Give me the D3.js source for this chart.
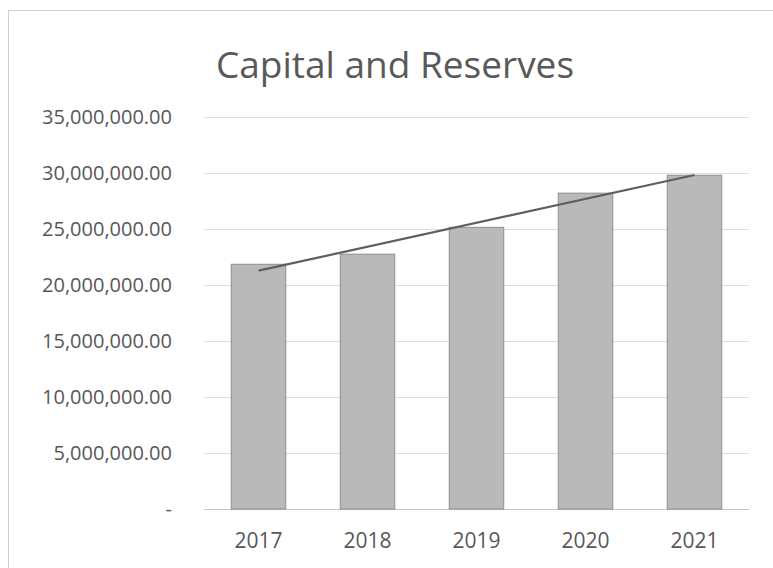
<!DOCTYPE html>
<html>
<head>
<meta charset="utf-8">
<script src="https://cdn.jsdelivr.net/npm/d3@7"></script>
<style>
    body { margin: 0; background: #fff; }
    svg { display: block; }
    .tick text { fill: #585858; }
</style>
</head>
<body>
<div id="chart"></div>
<script>
// data
var years = ["2017", "2018", "2019", "2020", "2021"];
var capital = [21850000, 22750000, 25150000, 28200000, 29800000];
var yTicks = [0, 5000000, 10000000, 15000000, 20000000, 25000000, 30000000, 35000000];

var svgWidth = 773;
var svgHeight = 568;

var margin = { top: 117, bottom: 59, left: 204, right: 24 };
var width = svgWidth - margin.left - margin.right;
var height = svgHeight - margin.top - margin.bottom;

var svg = d3.select("#chart")
    .append("svg")
    .attr("width", svgWidth)
    .attr("height", svgHeight);

// chart frame
svg.append("path")
    .attr("d", "M8.5,568 L8.5,10.5 L773,10.5")
    .attr("fill", "none")
    .attr("stroke", "#cfcfcf")
    .attr("stroke-width", 1);

// title
svg.append("text")
    .attr("x", 395)
    .attr("y", 78)
    .attr("text-anchor", "middle")
    .attr("font-family", "'Open Sans', 'Noto Sans', sans-serif")
    .attr("font-size", "37px")
    .attr("fill", "#595959")
    .text("Capital and Reserves");

var chartGroup = svg.append("g")
    .attr("transform", `translate(${margin.left}, ${margin.top})`);

var xScale = d3.scaleBand()
    .domain(years)
    .range([0, width])
    .paddingInner(0.5)
    .paddingOuter(0.25);

var yScale = d3.scaleLinear()
    .domain([0, 35000000])
    .range([height, 0]);

// gridlines
chartGroup.append("g")
    .selectAll("line")
    .data(yTicks)
    .enter()
    .append("line")
    .attr("x1", 0)
    .attr("x2", width)
    .attr("y1", d => Math.round(yScale(d)) + 0.5)
    .attr("y2", d => Math.round(yScale(d)) + 0.5)
    .attr("stroke", d => d === 0 ? "#c4c4c4" : "#dddddd")
    .attr("stroke-width", 1);

// y axis labels
var fmt = d3.format(",.2f");
var leftAxis = d3.axisLeft(yScale)
    .tickValues(yTicks)
    .tickSize(0)
    .tickPadding(32)
    .tickFormat(d => d === 0 ? "-" : fmt(d));

chartGroup.append("g")
    .call(leftAxis)
    .call(g => g.select(".domain").remove())
    .selectAll("text")
    .attr("font-family", "'Open Sans', 'Noto Sans', sans-serif")
    .attr("font-size", "20px");

// x axis labels
var bottomAxis = d3.axisBottom(xScale)
    .tickSize(0)
    .tickPadding(24);

chartGroup.append("g")
    .attr("transform", `translate(0, ${height})`)
    .call(bottomAxis)
    .call(g => g.select(".domain").remove())
    .selectAll("text")
    .attr("font-family", "'Open Sans', 'Noto Sans', sans-serif")
    .attr("font-size", "21px");

// bars
chartGroup.selectAll(".bar")
    .data(capital)
    .enter()
    .append("rect")
    .attr("class", "bar")
    .attr("x", (d, i) => xScale(years[i]))
    .attr("y", d => yScale(d))
    .attr("width", xScale.bandwidth())
    .attr("height", d => height - yScale(d))
    .attr("fill", "#b9b9b9")
    .attr("stroke", "#8e8e8e")
    .attr("stroke-width", 1);

// linear trendline (least squares over the categories)
var n = capital.length;
var xs = d3.range(n);
var mx = d3.mean(xs);
var my = d3.mean(capital);
var slope = d3.sum(xs, i => (i - mx) * (capital[i] - my)) / d3.sum(xs, i => (i - mx) * (i - mx));
var icpt = my - slope * mx;

var trend = [0, n - 1].map(i => [xScale(years[i]) + xScale.bandwidth() / 2, yScale(icpt + slope * i)]);

chartGroup.append("path")
    .attr("d", d3.line()(trend))
    .attr("fill", "none")
    .attr("stroke", "#5e5e5e")
    .attr("stroke-width", 2.2);
</script>
</body>
</html>
